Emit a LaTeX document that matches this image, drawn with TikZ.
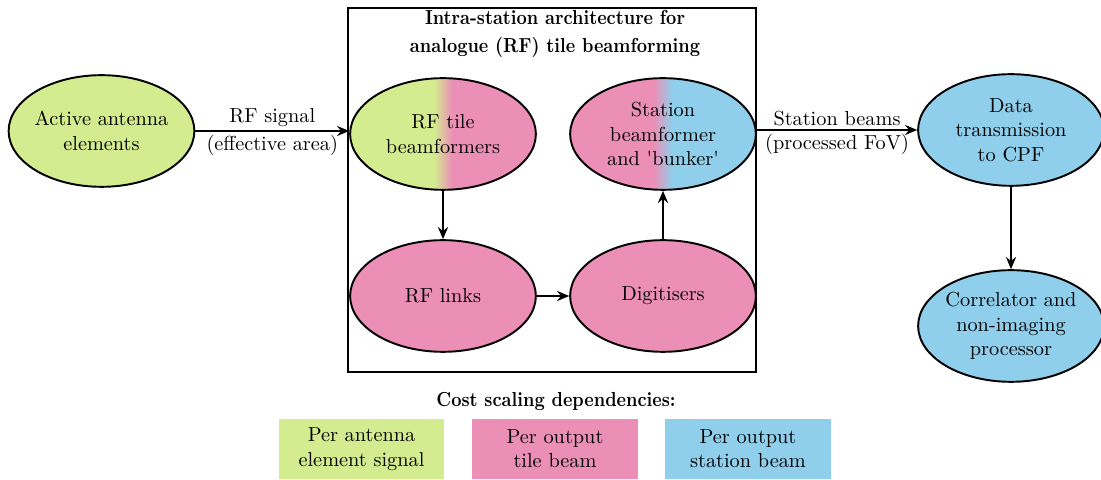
\documentclass[tikz,border=0pt]{standalone}
\usetikzlibrary{shapes.geometric,arrows.meta}

\definecolor{cgreen}{RGB}{211,236,143}
\definecolor{cpink}{RGB}{236,143,183}
\definecolor{cblue}{RGB}{143,207,236}

% two-colour shadings with a narrow blend at the middle
\pgfdeclarehorizontalshading{greenpink}{100bp}{color(0bp)=(cgreen); color(47.5bp)=(cgreen); color(52.5bp)=(cpink); color(100bp)=(cpink)}
\pgfdeclarehorizontalshading{pinkblue}{100bp}{color(0bp)=(cpink); color(47.5bp)=(cpink); color(52.5bp)=(cblue); color(100bp)=(cblue)}

% narrow (non-extended) bold for headings
\newcommand{\narrowbf}[1]{\scalebox{0.88}[1]{\bfseries #1}}

\tikzset{
  unit/.style={ellipse, draw, line width=0.95pt, minimum width=91.5pt, minimum height=55pt,
    align=center, inner xsep=-8pt, inner ysep=1pt},
  link/.style={line width=0.9pt, -{Stealth[length=6pt,width=5pt,inset=2pt]}},
  legendbox/.style={minimum width=81.5pt, minimum height=29.5pt, align=center, inner sep=0pt},
  heading/.style={align=center},
  edgelabel/.style={inner sep=1.5pt}
}

\begin{document}
\begin{tikzpicture}[x=0.4926pt, y=-0.4926pt]
\useasboundingbox (0,0) rectangle (1101,480);

% station enclosure
\node[draw, line width=0.95pt, minimum width=201pt, minimum height=179.3pt, inner sep=0pt] (station) at (552,190) {};
\node[heading] (stitle) at (555,34) {\narrowbf{Intra-station architecture for}\\[1.5pt] \narrowbf{analogue (RF) tile beamforming}};

% processing units
\node[unit, fill=cgreen] (ant) at (101.5,131) {Active antenna\\ elements};
\node[unit, shading=greenpink] (tile) at (443,134) {RF tile\\ beamformers};
\node[unit, shading=pinkblue] (sbf) at (663,134) {Station\\ beamformer\\ and \textquotesingle bunker\textquotesingle};
\node[unit, fill=cpink] (links) at (443,296) {RF links};
\node[unit, fill=cpink] (dig) at (663,296) {Digitisers};
\node[unit, fill=cblue] (cpf) at (1011,130) {Data\\ transmission\\ to CPF};
\node[unit, fill=cblue] (corr) at (1011,326) {Correlator and\\ non-imaging\\ processor};

% signal flow
\draw[link] (ant) -- node[edgelabel, above] {RF signal} node[edgelabel, below] {(effective area)} (tile.west |- ant);
\draw[link] (tile) -- (links);
\draw[link] (links) -- (dig);
\draw[link] (dig) -- (sbf);
\draw[link] (sbf.east |- cpf) -- node[edgelabel, above] {Station beams} node[edgelabel, below] {(processed FoV)} (cpf);
\draw[link] (cpf) -- (corr);

% legend
\node[heading] (ltitle) at (556,401) {\narrowbf{Cost scaling dependencies:}};
\node[legendbox, fill=cgreen] (lg) at (361.5,449) {Per antenna\\ element signal};
\node[legendbox, fill=cpink] (lp) at (555,449) {Per output\\ tile beam};
\node[legendbox, fill=cblue] (lb) at (748,449) {Per output\\ station beam};
\end{tikzpicture}
\end{document}
